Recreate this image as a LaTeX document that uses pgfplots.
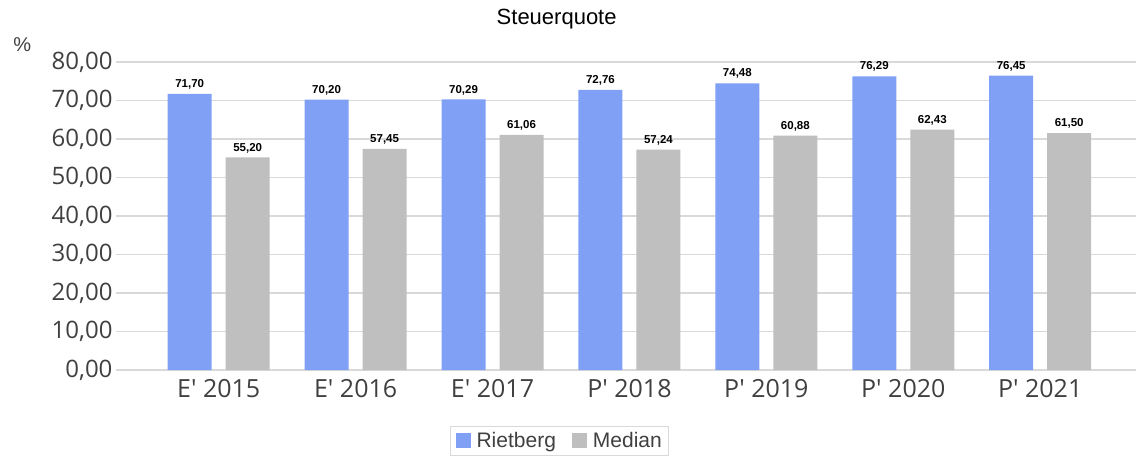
\documentclass[border=0pt]{standalone}
\usepackage{pgfplots}
\pgfplotsset{compat=1.18}
\usepackage{fontspec}
\setmainfont{Liberation Sans}
\newfontfamily\tickfont{Open Sans}
\definecolor{rblue}{RGB}{128,160,246}
\definecolor{mgrey}{RGB}{191,191,191}
\definecolor{gridc}{RGB}{217,217,217}
\definecolor{txt}{RGB}{64,64,64}
\begin{document}
\begin{tikzpicture}
\useasboundingbox (-116pt,-91pt) rectangle (1020pt,370pt);
\begin{axis}[
  at={(0pt,0pt)}, anchor=south west,
  scale only axis, width=1020pt, height=308pt,
  ybar=14pt, bar width=44pt,
  xmin=-0.75, xmax=6.7, ymin=0, ymax=80,
  ytick={0,10,...,80},
  xtick={0,...,6},
  xticklabels={E' 2015,E' 2016,E' 2017,P' 2018,P' 2019,P' 2020,P' 2021},
  axis line style={draw=none},
  major tick length=0pt,
  ymajorgrids, grid style={gridc, line width=1.2pt},
  yticklabel style={font=\tickfont\fontsize{24}{24}\selectfont, text=txt},
  yticklabel={\pgfmathprintnumber[use comma, fixed, fixed zerofill, precision=2, assume math mode=true]{\tick}},
  xticklabel style={font=\tickfont\fontsize{25}{25}\selectfont, text=txt, yshift=-6pt},
  nodes near coords,
  nodes near coords style={font=\bfseries\fontsize{11.5}{12}\selectfont, text=black, yshift=1pt,
    /pgf/number format/.cd, use comma, fixed, fixed zerofill, precision=2, assume math mode=true},
  legend style={at={(axis description cs:0.435,-0.23)}, anchor=center,
    legend columns=2, draw=gridc, line width=1pt, font=\fontsize{21}{22}\selectfont, text=txt,
    inner xsep=5pt, inner ysep=4pt,
    /tikz/every odd column/.append style={column sep=4pt},
    /tikz/every even column/.append style={column sep=14pt}},
  legend image code/.code={\fill[#1] (0pt,-7.5pt) rectangle (15pt,7.5pt);},
  clip=false,
]
\addplot[fill=rblue, draw=none] coordinates {(0,71.70) (1,70.20) (2,70.29) (3,72.76) (4,74.48) (5,76.29) (6,76.45)};
\addplot[fill=mgrey, draw=none] coordinates {(0,55.20) (1,57.45) (2,61.06) (3,57.24) (4,60.88) (5,62.43) (6,61.50)};
\legend{Rietberg, Median}
\node[font=\fontsize{22}{23}\selectfont] at (axis description cs:0.432,1.14) {Steuerquote};
\node[font=\fontsize{20}{20}\selectfont, text=txt] at (axis description cs:-0.092,1.055) {\%};
\end{axis}
\end{tikzpicture}
\end{document}
